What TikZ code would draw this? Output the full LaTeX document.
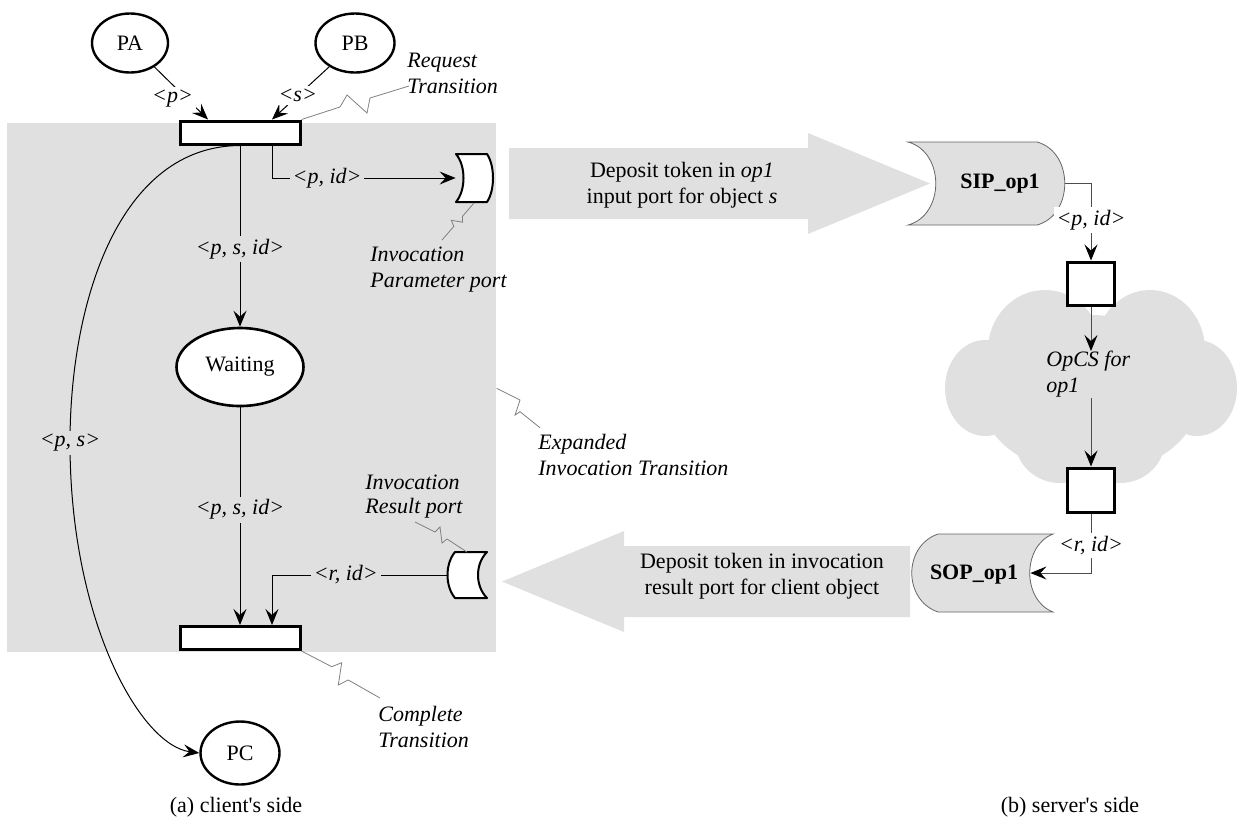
\documentclass[tikz,border=0pt]{standalone}
\usepackage{fontspec}
\setmainfont{Liberation Serif}
\usetikzlibrary{arrows.meta,shapes.geometric,calc}
\definecolor{bg}{HTML}{E0E0E0}
\definecolor{callgray}{HTML}{808080}
\begin{document}
\begin{tikzpicture}[x=0.5pt,y=-0.5pt,
  every node/.style={font=\fontsize{11}{13}\selectfont, inner sep=0pt},
  place/.style={ellipse, draw, line width=1.2pt, fill=white},
  bar/.style={rectangle, draw, line width=1.5pt, fill=white, minimum width=60pt, minimum height=11.5pt},
  sqtr/.style={rectangle, draw, line width=1.5pt, fill=white, minimum width=23.5pt, minimum height=21.5pt},
  arc/.style={line width=0.5pt, -{Stealth[length=8pt,width=6.5pt,inset=3pt,color=black]}},
  sarc/.style={arc, draw=black!70},
  lbl/.style={font=\fontsize{11}{13}\selectfont\itshape, inner sep=1.5pt},
  note/.style={font=\fontsize{11}{13}\selectfont\itshape, align=left},
  callout/.style={draw=callgray, line width=0.4pt},
  holder/.style={rectangle, inner sep=0pt},
  portshape/.style={draw, line width=1pt, fill=white, line join=round},
  cylshape/.style={draw=black!60, line width=0.4pt, fill=bg}
]
\useasboundingbox (0,0) rectangle (1246,821);

% client background
\fill[bg] (7,123) rectangle (496,652);

% cloud
\fill[bg] (1090,395) ellipse [x radius=55pt, y radius=40pt];
\fill[bg] (985,388) ellipse [x radius=20pt, y radius=24pt];
\fill[bg] (1197,388) ellipse [x radius=20pt, y radius=24pt];
\fill[bg] (1045,350) ellipse [x radius=28.5pt, y radius=30pt];
\fill[bg] (1150,350) ellipse [x radius=27.5pt, y radius=30pt];
\fill[bg] (1060,440) ellipse [x radius=22.5pt, y radius=21.5pt];
\fill[bg] (1120,440) ellipse [x radius=22.5pt, y radius=21.5pt];

% big arrows
\fill[bg] (509,148) -- (808,148) -- (808,133) -- (930,183.5) -- (808,234) -- (808,219) -- (509,219) -- cycle;
\fill[bg] (910,546) -- (624,546) -- (624,531) -- (502,581.5) -- (624,632) -- (624,617) -- (910,617) -- cycle;
\node[align=center] (dep1) at (682,185) {Deposit token in \textit{op1}\\input port for object \textit{s}};
\node[align=center] (dep2) at (762,576.5) {Deposit token in invocation\\result port for client object};

% places and transitions
\node[place, minimum width=38pt, minimum height=29.5pt] (PA) at (130,43) {PA};
\node[place, minimum width=39.5pt, minimum height=29.5pt] (PB) at (355,43) {PB};
\node[bar] (bar1) at (240,132.5) {};
\node[place, line width=1.3pt, minimum width=63.5pt, minimum height=39pt] (Waiting) at (240,367) {Waiting};
\node[bar] (bar2) at (240,638) {};
\node[place, minimum width=39.5pt, minimum height=31.5pt] (PC) at (240,753) {PC};

% ports
\draw[portshape] (456,154) -- (487,154) .. controls (495,166) and (495,190) .. (487,202) -- (456,202) .. controls (466,190) and (466,166) .. (456,154) -- cycle;
\node[holder, minimum width=18.5pt, minimum height=24pt] (ipp) at (474.5,178) {};
\draw[portshape] (455,552) -- (487,552) .. controls (475,564) and (475,586) .. (487,598) -- (455,598) .. controls (445,586) and (445,564) .. (455,552) -- cycle;
\node[holder, minimum width=19.5pt, minimum height=23pt] (rpp) at (467.5,575) {};

% server side
\draw[cylshape] (908,142) -- (1037,142) .. controls (1074,152) and (1074,215) .. (1037,225) -- (908,225) .. controls (945,215) and (945,152) .. (908,142) -- cycle;
\node[holder, minimum width=78.5pt, minimum height=41.5pt] (SIP) at (986.5,183.5) {};
\node[font=\fontsize{11}{13}\selectfont\bfseries] (siptext) at (1000,184) {SIP\_op1};
\draw[cylshape] (938,534) -- (1053,534) .. controls (1022,546) and (1022,600) .. (1053,612) -- (938,612) .. controls (903,600) and (903,546) .. (938,534) -- cycle;
\node[holder, minimum width=70.5pt, minimum height=39pt] (SOP) at (982.5,573) {};
\node[font=\fontsize{11}{13}\selectfont\bfseries] (soptext) at (974,575) {SOP\_op1};
\node[sqtr] (sq1) at (1091,283.5) {};
\node[sqtr, minimum height=22pt] (sq2) at (1091,490) {};
\node[note, anchor=west] (opcs) at (1046,374.5) {OpCS for\\op1};

% client connectors
\draw[arc] (PA) -- ([xshift=-16pt]bar1.north) node[lbl, fill=white, pos=0.6, xshift=-7pt]{<p>};
\draw[arc] (PB) -- ([xshift=16pt]bar1.north) node[lbl, fill=white, pos=0.55]{<s>};
\draw[arc] ([xshift=16pt]bar1.south) |- (ipp.west) node[lbl, fill=bg, pos=0.65]{<p, id>};
\draw[arc] (bar1.south) -- (Waiting.north) node[lbl, fill=bg, pos=0.57]{<p, s, id>};
\draw[arc] (Waiting.south) -- (bar2.north) node[lbl, fill=bg, pos=0.47]{<p, s, id>};
\draw[arc] (rpp.west) -| ([xshift=16pt]bar2.north) node[lbl, fill=bg, pos=0.29]{<r, id>};
\draw[arc] (bar1.south) .. controls (120,146) and (70,300) .. (70,443) node[lbl, fill=bg]{<p, s>} .. controls (70,620) and (140,745) .. (PC.west);

% server connectors
\draw[sarc] (SIP.east) -| (sq1.north) node[lbl, fill=white, pos=0.74]{<p, id>};
\draw[sarc] (sq1.south) -- (sq1.south |- opcs.north);
\draw[sarc] (sq1.south |- opcs.south) -- (sq2.north);
\draw[sarc] (sq2.south) |- ([xshift=-11.5pt]SOP.east) node[lbl, fill=white, pos=0.27]{<r, id>};

% annotations
\node[note, anchor=west] (reqtxt) at (407,73.5) {Request\\Transition};
\node[note, anchor=west] (ipptxt) at (370,270) {Invocation\\Parameter port};
\node[note, anchor=west] (exptxt) at (538,455) {Expanded\\Invocation Transition};
\node[note, anchor=west, font=\fontsize{11}{12}\selectfont\itshape] (rpptxt) at (365,497) {Invocation\\Result port};
\node[note, anchor=west] (comptxt) at (378,727) {Complete\\Transition};

\draw[callout] (bar1.north east) -- (340,107) -- (347,95) -- (367,113) -- (370,98) -- (409,86);
\draw[callout] (474,203) -- (462.4,216.4) -- (462.6,222.2) -- (451.3,220.3) -- (453.8,226.4) -- (442,240);
\draw[callout] (496.7,388.3) -- (520,400) -- (515,415) -- (520,411.7) -- (540,427.7);
\draw[callout] (467,552) -- (447,539) -- (442,543) -- (440,527) -- (435,532) -- (415,522);
\draw[callout] (bar2.south east) -- (331.7,666.7) -- (341.7,662.7) -- (338.3,685) -- (348.3,680) -- (380,698);

% captions
\node (capa) at (236,807) {(a) client\textquotesingle s side};
\node (capb) at (1070,807) {(b) server\textquotesingle s side};
\end{tikzpicture}
\end{document}
